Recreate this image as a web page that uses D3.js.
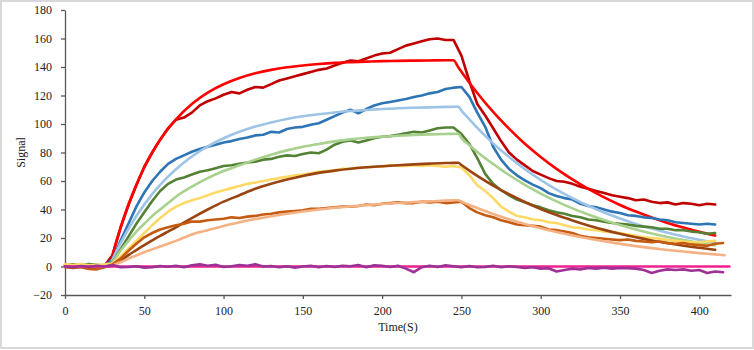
<!DOCTYPE html>
<html>
<head>
<meta charset="utf-8">
<script src="https://cdn.jsdelivr.net/npm/d3@7"></script>
<style>
  html, body { margin: 0; padding: 0; background: #fff; }
  svg { display: block; }
  .tick text { font-family: "Liberation Serif", "Times New Roman", serif; font-size: 12px; fill: #222; }
</style>
</head>
<body>
<svg id="chart" width="754" height="350"></svg>
<script>
// ---------- DATA ----------
const dataTime = [0,5,10,15,20,25,30,35,40,45,50,55,60,65,70,75,80,85,90,95,100,105,110,115,120,125,130,135,140,145,150,155,160,165,170,175,180,185,190,195,200,205,210,215,220,225,230,235,240,245,250,255,260,265,270,275,280,285,290,295,300,305,310,315,320,325,330,335,340,345,350,355,360,365,370,375,380,385,390,395,400,405,410,415];

const darkRedData = [0.5,-0.3,0.8,0.2,-0.5,0.6,8,27,43,57,70,80,89,97,103,104.5,108,113,116,118,120.5,122.5,121.5,124,126,125.5,128,130.5,132,133.5,135,136.5,138,139,141,143,144.5,144,146,148,149.5,150,152.5,155,156.5,158,159.5,160,159,159,148,130,114,106,97,88,80,75,71,67,64.5,62,60,59.5,58,56,54.5,53,51.5,50,49,48,46.5,47,45.5,44.5,45,43.5,44.5,44,43,44,43.5,null];

const blueData = [0.3,0.8,0.2,0.9,0.4,0.6,5,18,30,42,52,60,66.5,72,75.5,78,80.5,82.5,84,85.5,87,88,89.5,90.5,92,92.5,94.5,94,96.5,97.5,98,99.5,100.5,103,105.5,108,110,107.5,110.5,113,114.5,115.5,116.5,117.5,119,120,121.5,122.5,124.5,125.5,126,119,108,98,84,75,68.5,64,60.5,57.5,55,51.5,49.5,48,47,44,42.5,41.5,40,38.5,37.5,36,35.5,34.5,34,33,32.5,31,30.5,30,29.5,30,29.5,null];

const greenData = [1,1.5,0.8,1.8,1.2,0.5,3,12,21,30,38,46,53,58,61,62.5,64.5,66.5,67.5,69,70.5,71,72,73,73.5,75,75.5,77,78,77.5,79,80,79.5,82,85.5,87.5,88.5,87,88.5,90,91,91.5,92.5,93.5,94.5,94,95.5,97,97.5,97.5,93,86,76,65,58,53.5,50,47,45,43,41.5,39.5,38,37,35.5,34.5,33,32.5,31.5,30.5,30,29.5,28.5,28,27.5,26.5,26.5,25.5,25.5,24.5,24,23,23.5,null];

const yellowData = [1.5,1,1.8,0.8,1.2,1.5,2,7,12.5,18,23.5,29,34,38.5,42,44.5,46.5,48,50,52,53.5,55,56.5,58,59,60,61,62,63,64,64.5,65.5,66.5,67,67.5,68.5,68.5,69.5,69.5,70,70,71,70.5,70.5,71,70.5,71,70.5,70,70.5,69.5,64,57,53,48,42,38.5,35.5,34.5,33,32.5,31,30.5,29,27.5,27,26,25.5,24.5,24,23.5,22.5,21.5,20.5,20,19.5,18.5,18,17.5,17,17,17.5,18,null];

const orangeData = [-0.5,-1,-0.5,-1.8,-2,-0.5,1.5,5.5,11,16,20.5,23.5,26,27.5,29,30,31.5,31.5,32.5,33,33.5,34.5,34,35,35.5,36.5,37,38,38.5,39,39.5,40.5,40.5,41,41.5,42,42,42.5,43.5,43,44,44.5,45,44.5,44.5,45.5,45,45.5,44.5,45,45.5,41,38,36,34.5,32.5,31,29.5,29,28.5,28,26,25.5,24.5,23.5,21.5,20.5,20,19.5,19,18.5,19,18,17.5,17,17.5,16.5,16,16.5,15.5,15,14.5,16,16.5];

const purpleData = [0,-0.5,0.3,-0.3,0.5,0,1,-0.5,-0.3,0.2,-0.8,-0.5,0.3,-0.2,0.5,-0.5,0.8,1.5,0.5,1.2,-0.3,0.2,1,0.5,1.5,0,0.3,-0.5,0.2,-0.8,0,0.5,-0.5,0.3,-0.3,0.5,0.2,1,-0.5,0.8,0.5,-0.3,0.5,-1.5,-4,-0.5,0.5,-0.3,0.8,0.2,-0.5,0.3,-0.5,-0.3,0.5,-0.5,0.2,-0.3,-1,-0.5,-1.5,-1.2,-3.5,-2.5,-1.5,-2,-1,-1.5,-0.8,-1.5,-1,-1.2,-1.5,-2.5,-4.5,-3,-2,-2.5,-2,-3,-2.5,-4.5,-3.5,-4];

const fitTime = [0,28,30,35,40,45,50,55,60,65,70,80,90,100,110,120,130,140,150,160,170,180,190,200,210,220,230,240,245,248,250,255,260,270,280,290,300,310,320,330,340,350,360,370,380,390,400,410,416];

const redFit = [0,0,8.4,27.2,43.5,57.4,69.5,80,88.9,96.7,103.3,114,122,127.9,132.3,135.6,138,139.8,141.1,142.1,142.9,143.4,143.8,144.1,144.3,144.5,144.6,144.7,144.7,139.8,136.6,129,121.8,108.5,96.8,86.2,76.9,68.5,61.1,54.4,48.5,43.2,38.6,34.4,30.6,27.3,24.3,21.7,null];

const lightBlueFit = [0,0,4.9,16.2,26.3,35.4,43.5,50.8,57.3,63.1,68.3,77.2,84.3,90,94.5,98.2,101.1,103.5,105.4,106.9,108.1,109.1,109.8,110.5,111,111.4,111.7,112,112.1,112.2,109.4,103.3,97.3,86.4,76.8,68.3,60.7,54,48,42.6,37.9,33.7,29.9,26.6,23.7,21,18.7,16.6,null];

const lightGreenFit = [0,0,3,11,18,24.5,30,35.5,40,44.5,49,56,62,67,71,75,78.5,81.5,84,86,87.8,89.2,90.3,91.1,91.8,92.3,92.7,93,93.1,93.2,90.1,85.1,80.4,71.9,64.2,57.3,51.2,45.7,40.8,36.5,32.6,29.1,26,23.2,20.7,18.5,16.5,14.8,null];

const brownFit = [0,0,1,4,8,11.5,15,18.3,21.5,24.5,27.5,34,40,45.5,50,54.5,58,61,63.5,65.7,67.3,68.6,69.6,70.4,71.1,71.7,72.2,72.6,72.7,72.8,71.2,67.3,63.6,56.8,50.7,45.3,40.4,36.1,32.3,28.8,25.7,23,20.5,18.3,16.4,14.6,13.1,11.7,null];

const lightOrangeFit = [0,0,0.8,3,5.5,7.8,10,12,14,16,18,22.5,25.5,28.5,31,33.3,35.2,37,38.6,40,41.2,42.2,43.1,43.9,44.6,45.2,45.7,46.2,46.4,46.5,45.5,43.2,41,36.9,33.2,29.9,26.9,24.2,21.8,19.7,17.7,15.9,14.3,12.9,11.6,10.5,9.4,8.5,7.9];

const pinkTime = [0, 419];
const pinkFit = [0, 0];

const xTicks = [0,50,100,150,200,250,300,350,400];
const yTicks = [-20,0,20,40,60,80,100,120,140,160,180];

// series definitions (drawing order)
const series = [
  {time: dataTime, values: darkRedData, color: "#C00000", fit: false},
  {time: fitTime, values: redFit, color: "#FF0000", fit: true},
  {time: dataTime, values: blueData, color: "#2E75B6", fit: false},
  {time: fitTime, values: lightBlueFit, color: "#9DC3E6", fit: true},
  {time: dataTime, values: greenData, color: "#548235", fit: false},
  {time: fitTime, values: lightGreenFit, color: "#A9D18E", fit: true},
  {time: dataTime, values: yellowData, color: "#FFD966", fit: false},
  {time: fitTime, values: brownFit, color: "#9A4511", fit: true},
  {time: dataTime, values: orangeData, color: "#C55A11", fit: false},
  {time: fitTime, values: lightOrangeFit, color: "#F4B183", fit: true},
  {time: pinkTime, values: pinkFit, color: "#F0228F", fit: true},
  {time: dataTime, values: purpleData, color: "#9E3196", fit: false}
];

// ---------- CHART ----------
const svg = d3.select("#chart");
const W = 754, H = 350;

svg.append("rect").attr("x", 1).attr("y", 1).attr("width", W - 2).attr("height", H - 3)
  .attr("fill", "#fff").attr("stroke", "#d9d9d9").attr("stroke-width", 2);

const x = d3.scaleLinear().domain([0, 420]).range([65, 731]);
const y = d3.scaleLinear().domain([-20, 180]).range([295, 10]);

const xAxis = svg.append("g").attr("transform", `translate(0,${y(-20)})`)
  .call(d3.axisBottom(x).tickValues(xTicks).tickSize(4).tickSizeOuter(0).tickPadding(7));
const yAxis = svg.append("g").attr("transform", `translate(${x(0)},0)`)
  .call(d3.axisLeft(y).tickValues(yTicks).tickSize(4).tickSizeOuter(0).tickPadding(9));
[xAxis, yAxis].forEach(g => {
  g.select(".domain").attr("stroke", "#595959").attr("stroke-width", 1.3);
  g.selectAll(".tick line").attr("stroke", "#595959").attr("stroke-width", 1.3);
});

const plot = svg.append("g");
series.forEach(s => {
  const pts = s.time.map((t, i) => ({t, v: s.values[i]})).filter(d => d.v != null);
  const line = d3.line()
    .x(d => x(d.t)).y(d => y(d.v))
    .curve(s.fit ? d3.curveMonotoneX : d3.curveLinear);
  plot.append("path").datum(pts)
    .attr("d", line)
    .attr("fill", "none")
    .attr("stroke", s.color)
    .attr("stroke-width", 2.6)
    .attr("stroke-linejoin", "round")
    .attr("stroke-linecap", "round");
});

svg.append("text")
  .attr("x", (x(0) + x(420)) / 2).attr("y", 331)
  .attr("text-anchor", "middle")
  .attr("font-family", "Liberation Serif, Times New Roman, serif")
  .attr("font-size", 12).attr("fill", "#222")
  .text("Time(S)");

svg.append("text")
  .attr("transform", `translate(25,${(y(-20) + y(180)) / 2}) rotate(-90)`)
  .attr("text-anchor", "middle")
  .attr("font-family", "Liberation Serif, Times New Roman, serif")
  .attr("font-size", 12).attr("fill", "#222")
  .text("Signal");
</script>
</body>
</html>
